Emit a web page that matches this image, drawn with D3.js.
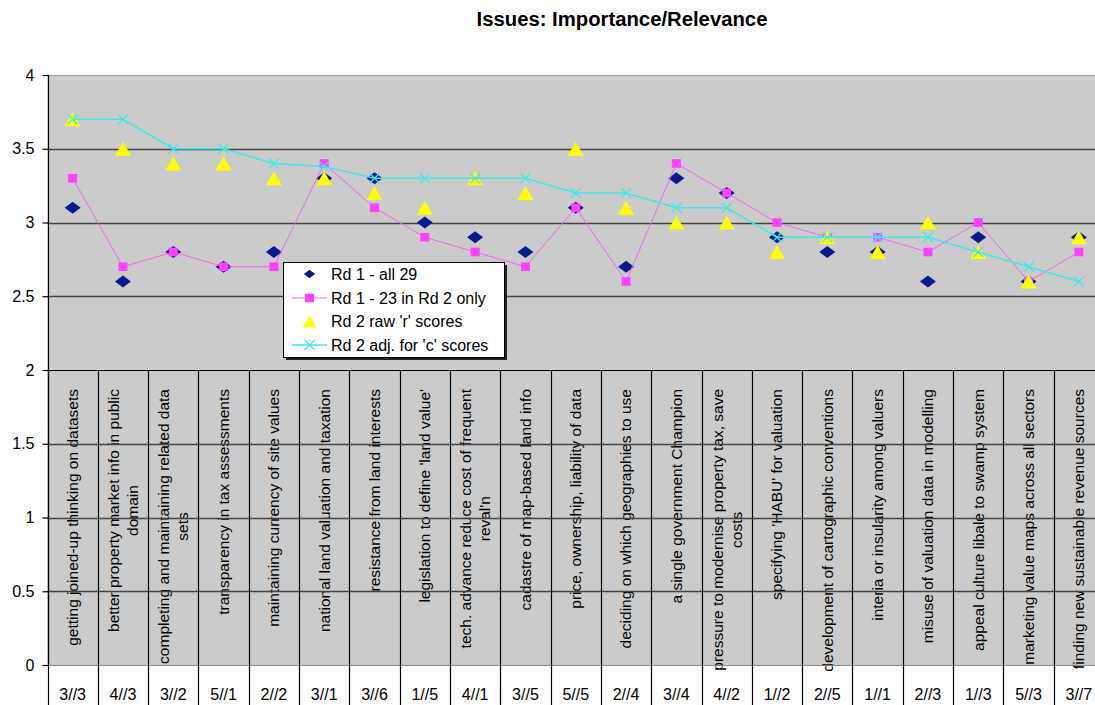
<!DOCTYPE html>
<html>
<head>
<meta charset="utf-8">
<script src="https://cdn.jsdelivr.net/npm/d3@7"></script>
<style>
  html, body { margin: 0; padding: 0; background: #ffffff; }
  svg { display: block; font-family: "Liberation Sans", Arial, sans-serif; }
</style>
</head>
<body>
<svg id="chart" width="1095" height="705"></svg>
<script>
// Issue labels (each entry is the list of wrapped lines)
const issues = [
  ["getting joined-up thinking on datasets"],
  ["better property market info in public", "domain"],
  ["completing and maintaining related data", "sets"],
  ["transparency in tax assessments"],
  ["maintaining currency of site values"],
  ["national land valuation and taxation"],
  ["resistance from land interests"],
  ["legislation to define 'land value'"],
  ["tech. advance reduce cost of frequent", "reval'n"],
  ["cadastre of map-based land info"],
  ["price, ownership,  liability of data"],
  ["deciding on which geographies to use"],
  ["a single government Champion"],
  ["pressure to modernise property tax,  save", "costs"],
  ["specifying 'HABU' for valuation"],
  ["development of cartographic conventions"],
  ["interia or insularity among valuers"],
  ["misuse of valuation data in modelling"],
  ["appeal culture libale to swamp system"],
  ["marketing value maps across all sectors"],
  ["finding new sustainable revenue sources"]
];
const codes = ["3//3","4//3","3//2","5//1","2//2","3//1","3//6","1//5","4//1","3//5",
               "5//5","2//4","3//4","4//2","1//2","2//5","1//1","2//3","1//3","5//3","3//7"];

// Series values
const rd1All   = [3.1, 2.6, 2.8, 2.7, 2.8, 3.3, 3.3, 3.0, 2.9, 2.8, 3.1, 2.7, 3.3, 3.2, 2.9, 2.8, 2.8, 2.6, 2.9, 2.6, 2.9];
const rd1Sub   = [3.3, 2.7, 2.8, 2.7, 2.7, 3.4, 3.1, 2.9, 2.8, 2.7, 3.1, 2.6, 3.4, 3.2, 3.0, 2.9, 2.9, 2.8, 3.0, 2.6, 2.8];
const rd2Raw   = [3.7, 3.5, 3.4, 3.4, 3.3, 3.3, 3.2, 3.1, 3.3, 3.2, 3.5, 3.1, 3.0, 3.0, 2.8, 2.9, 2.8, 3.0, 2.8, 2.6, 2.9];
const rd2Adj   = [3.7, 3.7, 3.5, 3.5, 3.4, 3.38, 3.3, 3.3, 3.3, 3.3, 3.2, 3.2, 3.1, 3.1, 2.9, 2.9, 2.9, 2.9, 2.8, 2.7, 2.6];

const yTicks = [0, 0.5, 1, 1.5, 2, 2.5, 3, 3.5, 4];
const legendNames = ["Rd 1 - all 29", "Rd 1 - 23 in Rd 2 only", "Rd 2 raw 'r' scores", "Rd 2 adj. for 'c' scores"];

const svg = d3.select("#chart");

const plot = { left: 47.5, right: 1104, top: 75, bottom: 665 };
const x = d3.scaleBand().domain(d3.range(issues.length)).range([plot.left, plot.right]).padding(0);
const y = d3.scaleLinear().domain([0, 4]).range([plot.bottom, plot.top]);
const cx = i => x(i) + x.bandwidth() / 2;
const axisY = y(2);

// Title
svg.append("text")
  .attr("x", 622).attr("y", 26)
  .attr("text-anchor", "middle")
  .attr("font-size", 20.3).attr("font-weight", "bold")
  .text("Issues: Importance/Relevance");

// Plot area background
svg.append("rect")
  .attr("x", plot.left).attr("y", plot.top)
  .attr("width", plot.right - plot.left).attr("height", plot.bottom - plot.top)
  .attr("fill", "#cbcbcb");
svg.append("line")
  .attr("x1", plot.left).attr("x2", plot.right)
  .attr("y1", plot.top + 0.5).attr("y2", plot.top + 0.5)
  .attr("stroke", "#9a9a9a");

// Category labels (rotated, block top-aligned below the axis, lines centred)
const labelTop = 389;
const lineGap = 19;
issues.forEach((lines, i) => {
  const g = svg.append("g");
  const texts = lines.map(t => g.append("text")
    .attr("font-size", 15.5)
    .attr("text-anchor", "middle")
    .attr("dy", "0.35em")
    .text(t));
  const maxLen = d3.max(texts, t => t.node().getComputedTextLength());
  texts.forEach((t, k) => {
    const dx = (k - (lines.length - 1) / 2) * lineGap;
    t.attr("transform", `translate(${cx(i) + dx},${labelTop + maxLen / 2}) rotate(-90)`);
  });
});

// Secondary category labels
svg.append("g").selectAll("text").data(codes).join("text")
  .attr("x", (d, i) => cx(i)).attr("y", 700)
  .attr("text-anchor", "middle")
  .attr("font-size", 16)
  .text(d => d);

// Horizontal gridlines
svg.append("g").selectAll("line")
  .data(yTicks.filter(v => v > 0 && v < 4 && v !== 2))
  .join("line")
  .attr("x1", plot.left).attr("x2", plot.right)
  .attr("y1", d => Math.round(y(d)) + 0.5).attr("y2", d => Math.round(y(d)) + 0.5)
  .attr("stroke", "#444").attr("stroke-width", 1.4);

// Baseline at zero
svg.append("line")
  .attr("x1", plot.left).attr("x2", plot.right)
  .attr("y1", Math.round(y(0)) + 0.5).attr("y2", Math.round(y(0)) + 0.5)
  .attr("stroke", "#8a8a8a").attr("stroke-width", 1.2);

// Category axis at value 2 with cell dividers
svg.append("line")
  .attr("x1", plot.left).attr("x2", plot.right)
  .attr("y1", Math.round(axisY) + 0.5).attr("y2", Math.round(axisY) + 0.5)
  .attr("stroke", "#000").attr("stroke-width", 1.2);
svg.append("g").selectAll("line")
  .data(d3.range(issues.length + 1))
  .join("line")
  .attr("x1", i => Math.round(plot.left + i * x.bandwidth()) + 0.5)
  .attr("x2", i => Math.round(plot.left + i * x.bandwidth()) + 0.5)
  .attr("y1", axisY).attr("y2", 705)
  .attr("stroke", "#000").attr("stroke-width", 1.2);

// Value axis
const yAxis = d3.axisLeft(y).tickValues(yTicks).tickSize(6).tickPadding(8).tickFormat(d => String(d));
const yg = svg.append("g").attr("transform", `translate(${Math.round(plot.left) + 0.5},0)`).call(yAxis);
yg.select(".domain").attr("stroke", "#000").attr("stroke-width", 1.2).attr("d", `M0,${plot.top}V${plot.bottom}`);
yg.selectAll(".tick line").attr("stroke", "#000").attr("stroke-width", 1.2);
yg.selectAll(".tick text").attr("font-size", 16).attr("font-family", "Liberation Sans, Arial, sans-serif").attr("fill", "#000");

// Marker shapes
const diamondPath = "M0,-6L8,0L0,6L-8,0Z";
const squarePath = "M-4.5,-4.3H4.5V4.3H-4.5Z";
const trianglePath = "M0,-7L8,7H-8Z";
const crossPath = "M-5,-5L5,5M-5,5L5,-5";

const colors = {
  navy: "#0a1a8c",
  pinkLine: "#ee66ee",
  pink: "#ff40ff",
  yellow: "#ffff00",
  cyan: "#40e8e8"
};

const line = d3.line().x((d, i) => cx(i)).y(d => y(d));

// Series 1: diamonds
svg.append("g").selectAll("path").data(rd1All).join("path")
  .attr("transform", (d, i) => `translate(${cx(i)},${y(d)})`)
  .attr("d", diamondPath).attr("fill", colors.navy);

// Series 2: pink line with squares
svg.append("path").datum(rd1Sub)
  .attr("d", line).attr("fill", "none")
  .attr("stroke", colors.pinkLine).attr("stroke-width", 1);
svg.append("g").selectAll("path").data(rd1Sub).join("path")
  .attr("transform", (d, i) => `translate(${cx(i)},${y(d)})`)
  .attr("d", squarePath).attr("fill", colors.pink);

// Series 3: triangles
svg.append("g").selectAll("path").data(rd2Raw).join("path")
  .attr("transform", (d, i) => `translate(${cx(i)},${y(d)})`)
  .attr("d", trianglePath).attr("fill", colors.yellow);

// Series 4: cyan line with crosses
svg.append("path").datum(rd2Adj)
  .attr("d", line).attr("fill", "none")
  .attr("stroke", colors.cyan).attr("stroke-width", 1.5);
svg.append("g").selectAll("path").data(rd2Adj).join("path")
  .attr("transform", (d, i) => `translate(${cx(i)},${y(d)})`)
  .attr("d", crossPath).attr("fill", "none")
  .attr("stroke", colors.cyan).attr("stroke-width", 1.2);

// Legend
const lg = svg.append("g").attr("transform", "translate(283,262)");
const lgW = 221, lgH = 95;
lg.append("rect").attr("x", 3).attr("y", 3).attr("width", lgW).attr("height", lgH).attr("fill", "#222");
lg.append("rect").attr("x", 0.5).attr("y", 0.5).attr("width", lgW).attr("height", lgH)
  .attr("fill", "#fff").attr("stroke", "#000").attr("stroke-width", 1);

const rowY = [12, 36, 59.5, 83];
const symX = 26.5;
legendNames.forEach((name, k) => {
  const row = lg.append("g").attr("transform", `translate(0,${rowY[k]})`);
  if (k === 1 || k === 3) {
    row.append("line").attr("x1", 9).attr("x2", 44).attr("y1", 0).attr("y2", 0)
      .attr("stroke", k === 1 ? colors.pinkLine : colors.cyan).attr("stroke-width", k === 1 ? 1 : 1.5);
  }
  const shape = [diamondPath, squarePath, trianglePath, crossPath][k];
  const m = row.append("path").attr("transform", `translate(${symX},0)${k === 0 ? " scale(0.7)" : ""}`).attr("d", shape);
  if (k === 0) m.attr("fill", colors.navy);
  if (k === 1) m.attr("fill", colors.pink);
  if (k === 2) m.attr("fill", colors.yellow).attr("transform", `translate(${symX},0) scale(0.85)`);
  if (k === 3) m.attr("fill", "none").attr("stroke", colors.cyan).attr("stroke-width", 1.2);
  row.append("text").attr("x", 48).attr("dy", "0.36em")
    .attr("font-size", 16).text(name);
});
</script>
</body>
</html>
